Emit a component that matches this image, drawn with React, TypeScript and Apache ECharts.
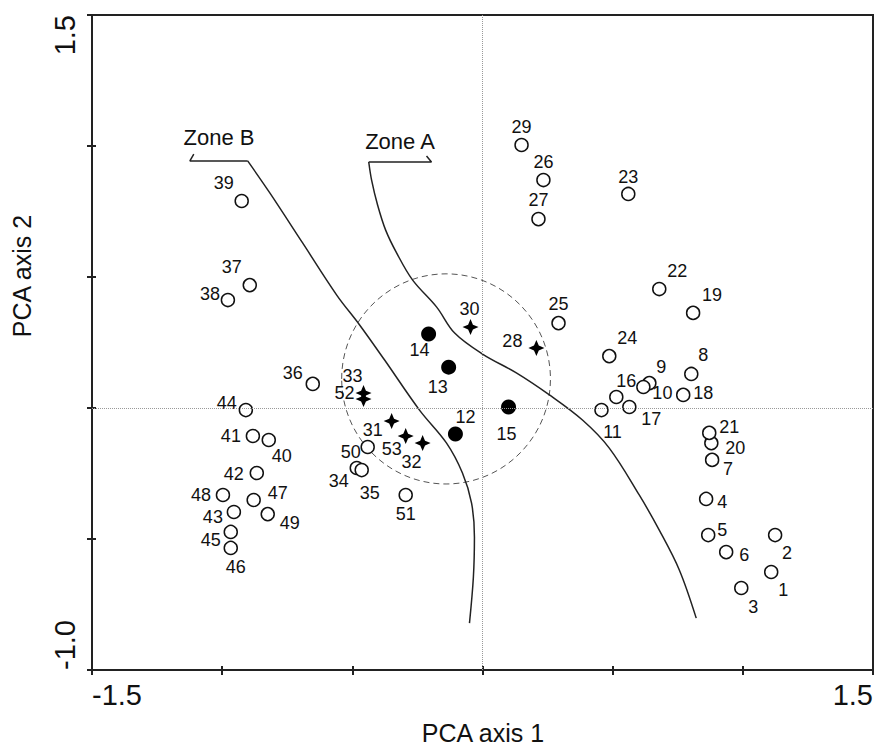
import React, { useEffect, useRef } from "react";
import * as echarts from "echarts";

// Site identifiers and PCA scores
const siteIds = [
  1, 2, 3, 4, 5, 6, 7, 8, 9, 10, 11, 12, 13, 14, 15, 16, 17, 18, 19, 20, 21, 22, 23, 24, 25, 26,
  27, 28, 29, 30, 31, 32, 33, 34, 35, 36, 37, 38, 39, 40, 41, 42, 43, 44, 45, 46, 47, 48, 49, 50,
  51, 52, 53,
];
const pcaAxis1 = [
  1.109, 1.124, 0.994, 0.859, 0.867, 0.936, 0.882, 0.802, 0.641, 0.618, 0.457, -0.104, -0.13,
  -0.207, 0.1, 0.514, 0.564, 0.771, 0.809, 0.879, 0.871, 0.679, 0.56, 0.487, 0.292, 0.234, 0.215,
  0.207, 0.15, -0.046, -0.349, -0.23, -0.457, -0.483, -0.464, -0.652, -0.894, -0.978, -0.925,
  -0.821, -0.882, -0.867, -0.955, -0.909, -0.967, -0.967, -0.879, -0.997, -0.825, -0.441, -0.295,
  -0.457, -0.295,
];
const pcaAxis2 = [
  -0.626, -0.485, -0.687, -0.347, -0.485, -0.55, -0.198, 0.13, 0.095, 0.08, -0.008, -0.099, 0.156,
  0.282, 0.004, 0.042, 0.004, 0.05, 0.363, -0.134, -0.095, 0.454, 0.817, 0.198, 0.324, 0.87, 0.721,
  0.229, 1.004, 0.309, -0.05, -0.134, 0.057, -0.229, -0.237, 0.092, 0.469, 0.412, 0.79, -0.122,
  -0.107, -0.248, -0.397, -0.008, -0.473, -0.534, -0.351, -0.332, -0.405, -0.149, -0.332, 0.034,
  -0.107,
];
const filledSites = [12, 13, 14, 15];
const starSites = [28, 30, 31, 32, 33, 52, 53];

// Zone boundaries (PCA space)
const zoneBBracket = [
  [-1.109, 0.969],
  [-1.124, 0.943],
  [-0.902, 0.943],
];
const zoneBCurve = [
  [-0.902, 0.943],
  [-0.817, 0.821],
  [-0.691, 0.63],
  [-0.56, 0.431],
  [-0.472, 0.317],
  [-0.376, 0.183],
  [-0.242, -0.008],
  [-0.138, -0.134],
  [-0.077, -0.248],
  [-0.042, -0.363],
  [-0.031, -0.492],
  [-0.035, -0.645],
  [-0.05, -0.821],
];
const zoneABracket = [
  [-0.215, 0.962],
  [-0.196, 0.939],
  [-0.437, 0.939],
];
const zoneACurve = [
  [-0.437, 0.939],
  [-0.426, 0.87],
  [-0.403, 0.775],
  [-0.372, 0.679],
  [-0.33, 0.592],
  [-0.269, 0.489],
  [-0.176, 0.385],
  [-0.107, 0.286],
  [0.0, 0.206],
  [0.13, 0.134],
  [0.257, 0.05],
  [0.384, -0.046],
  [0.487, -0.153],
  [0.602, -0.332],
  [0.679, -0.466],
  [0.756, -0.618],
  [0.821, -0.802],
];
// Dashed circle: centre x, centre y, radius
const coreCircle = [[-0.14, 0.111, 0.401]];

// Label placement (pixel offsets from each marker), layout only
const labelOffsets: Record<number, [number, number]> = {
  1: [12, 18], 2: [12, 18], 3: [12, 19], 4: [16, 3], 5: [14, -5], 6: [18, 3], 7: [16, 9],
  8: [12, -19], 9: [12, -16], 10: [19, 6], 11: [11, 22], 12: [10, -17], 13: [-11, 20],
  14: [-9, 16], 15: [-2, 27], 16: [10, -16], 17: [22, 12], 18: [20, -2], 19: [19, -18],
  20: [24, 5], 21: [20, -6], 22: [18, -18], 23: [0, -17], 24: [18, -18], 25: [0, -19],
  26: [0, -18], 27: [0, -19], 28: [-24, -7], 29: [0, -18], 30: [-1, -18], 31: [-19, 9],
  32: [-11, 19], 33: [-11, -17], 34: [-18, 13], 35: [8, 23], 36: [-20, -11], 37: [-18, -18],
  38: [-18, -6], 39: [-18, -18], 40: [13, 16], 41: [-22, 0], 42: [-23, 1], 43: [-21, 5],
  44: [-19, -7], 45: [-20, 8], 46: [5, 19], 47: [24, -7], 48: [-22, 0], 49: [22, 9],
  50: [-17, 5], 51: [0, 19], 52: [-19, -6], 53: [-14, 13],
};

const FONT = '"Liberation Sans", Arial, Helvetica, sans-serif';
const INK = "#111";
const STAR =
  "path://M0,-10 L3,-3 L10,0 L3,3 L0,10 L-3,3 L-10,0 L-3,-3 Z";

function buildItems(filter: (id: number) => boolean) {
  const out: any[] = [];
  siteIds.forEach((id, i) => {
    if (!filter(id)) return;
    out.push({
      name: String(id),
      value: [pcaAxis1[i], pcaAxis2[i]],
      label: { offset: labelOffsets[id] || [0, -18] },
    });
  });
  return out;
}

export default function App() {
  const ref = useRef<HTMLDivElement>(null);

  useEffect(() => {
    document.body.style.margin = "0";
    if (!ref.current) return;
    const chart = echarts.init(ref.current, undefined, { renderer: "svg" });

    const pointLabel = {
      show: true,
      position: "inside",
      formatter: "{b}",
      color: INK,
      fontSize: 18,
      fontFamily: FONT,
      textBorderWidth: 0,
      opacity: 1,
    };

    const xTickLabel = (v: number) => (v === -1.5 || v === 1.5 ? v.toFixed(1) : "");
    const yTickLabel = (v: number) => (v === -1 || v === 1.5 ? v.toFixed(1) : "");

    const baseX = {
      type: "value",
      min: -1.5,
      max: 1.5,
      interval: 0.5,
      splitLine: { show: false },
    };
    const baseY = {
      type: "value",
      min: -1.0,
      max: 1.5,
      interval: 0.5,
      splitLine: { show: false },
    };

    const option: any = {
      animation: false,
      backgroundColor: "#fff",
      grid: {
        left: 92,
        right: 2,
        top: 15,
        bottom: 76,
        show: true,
        borderColor: "#222",
        borderWidth: 2,
        backgroundColor: "transparent",
      },
      xAxis: [
        {
          ...baseX,
          position: "bottom",
          axisLine: { show: true, onZero: false, lineStyle: { color: "#222", width: 2 } },
          axisTick: { show: true, inside: false, length: 5, lineStyle: { color: "#222", width: 2 } },
          axisLabel: {
            show: true,
            formatter: xTickLabel,
            fontSize: 29,
            fontFamily: FONT,
            color: INK,
            margin: 10,
            alignMinLabel: "left",
            alignMaxLabel: "right",
          },
        },
        {
          ...baseX,
          position: "bottom",
          axisLine: { show: false, onZero: false },
          axisTick: { show: true, inside: true, length: 4, lineStyle: { color: "#222", width: 2 } },
          axisLabel: { show: false },
        },
      ],
      yAxis: [
        {
          ...baseY,
          position: "left",
          axisLine: { show: true, onZero: false, lineStyle: { color: "#222", width: 2 } },
          axisTick: { show: true, inside: false, length: 5, lineStyle: { color: "#222", width: 2 } },
          axisLabel: {
            show: true,
            formatter: yTickLabel,
            rotate: 90,
            fontSize: 29,
            fontFamily: FONT,
            color: INK,
            margin: 13,
            alignMinLabel: "left",
            alignMaxLabel: "right",
          },
        },
        {
          ...baseY,
          position: "left",
          axisLine: { show: false, onZero: false },
          axisTick: { show: true, inside: true, length: 4, lineStyle: { color: "#222", width: 2 } },
          axisLabel: { show: false },
        },
      ],
      graphic: [
        {
          type: "text",
          x: 483,
          y: 733,
          style: {
            text: "PCA axis 1",
            font: `25px ${FONT}`,
            fill: INK,
            align: "center",
            verticalAlign: "middle",
          },
        },
        {
          type: "text",
          x: 22,
          y: 276,
          rotation: Math.PI / 2,
          style: {
            text: "PCA axis 2",
            font: `25px ${FONT}`,
            fill: INK,
            align: "center",
            verticalAlign: "middle",
          },
        },
        {
          type: "text",
          x: 219,
          y: 137,
          style: {
            text: "Zone B",
            font: `22px ${FONT}`,
            fill: INK,
            align: "center",
            verticalAlign: "middle",
          },
        },
        {
          type: "text",
          x: 400,
          y: 141,
          style: {
            text: "Zone A",
            font: `22px ${FONT}`,
            fill: INK,
            align: "center",
            verticalAlign: "middle",
          },
        },
      ],
      series: [
        {
          type: "custom",
          name: "core",
          silent: true,
          z: 1,
          data: coreCircle,
          encode: { x: 0, y: 1 },
          renderItem: (params: any, api: any) => {
            const c = api.coord([api.value(0), api.value(1)]);
            const s = api.size([api.value(2), api.value(2)]);
            return {
              type: "ellipse",
              shape: { cx: c[0], cy: c[1], rx: s[0], ry: s[1] },
              style: { fill: "none", stroke: "#555", lineWidth: 1, lineDash: [6, 4] },
            };
          },
        },
        {
          type: "line",
          name: "zoneBBracket",
          data: zoneBBracket,
          symbol: "none",
          silent: true,
          z: 2,
          lineStyle: { color: "#222", width: 1.5 },
        },
        {
          type: "line",
          name: "zoneBCurve",
          data: zoneBCurve,
          symbol: "none",
          smooth: 0.35,
          silent: true,
          z: 2,
          lineStyle: { color: "#222", width: 1.5 },
        },
        {
          type: "line",
          name: "zoneABracket",
          data: zoneABracket,
          symbol: "none",
          silent: true,
          z: 2,
          lineStyle: { color: "#222", width: 1.5 },
        },
        {
          type: "line",
          name: "zoneACurve",
          data: zoneACurve,
          symbol: "none",
          smooth: 0.35,
          silent: true,
          z: 2,
          lineStyle: { color: "#222", width: 1.5 },
        },
        {
          type: "scatter",
          name: "open",
          z: 3,
          symbol: "circle",
          symbolSize: 13,
          itemStyle: { color: "#fff", borderColor: INK, borderWidth: 1.5, opacity: 1 },
          label: pointLabel,
          data: buildItems((id) => !filledSites.includes(id) && !starSites.includes(id)),
          markLine: {
            silent: true,
            symbol: ["none", "none"],
            label: { show: false },
            lineStyle: { type: "dotted", color: "#999", width: 1 },
            data: [{ xAxis: 0 }, { yAxis: 0 }],
          },
        },
        {
          type: "scatter",
          name: "filled",
          z: 3,
          symbol: "circle",
          symbolSize: 15,
          itemStyle: { color: "#000", opacity: 1 },
          label: pointLabel,
          data: buildItems((id) => filledSites.includes(id)),
        },
        {
          type: "scatter",
          name: "star",
          z: 3,
          symbol: STAR,
          symbolSize: 16,
          itemStyle: { color: "#000", opacity: 1 },
          label: pointLabel,
          data: buildItems((id) => starSites.includes(id)),
        },
      ],
    };

    chart.setOption(option);
    return () => chart.dispose();
  }, []);

  return (
    <div
      ref={ref}
      style={{ position: "absolute", left: 0, top: 0, width: 876, height: 746, background: "#fff" }}
    />
  );
}
